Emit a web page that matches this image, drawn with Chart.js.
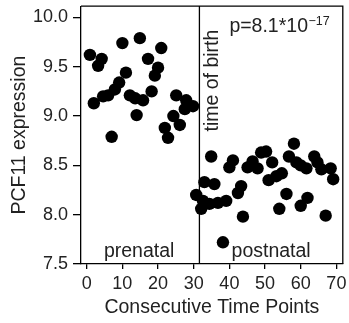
<!DOCTYPE html>
<html><head><meta charset="utf-8">
<script src="https://cdn.jsdelivr.net/npm/chart.js@4"></script>
<style>html,body{margin:0;padding:0;background:#fff;}#wrap{width:349px;height:323px;}</style>
</head><body><div id="wrap"><canvas id="c" width="349" height="323"></canvas></div>
<script>
// ---- data ----
const prenatalX = [0.9, 2.0, 3.2, 4.2, 4.6, 6.0, 7.0, 7.9, 9.1, 10.0, 11.0, 12.1, 13.6, 14.0, 14.9, 15.8, 17.2, 18.2, 19.1, 20.0, 20.9, 21.9, 22.8, 24.3, 25.1, 26.1, 27.5, 27.9, 29.8];
const prenatalY = [9.62, 9.13, 9.51, 9.58, 9.20, 9.21, 8.79, 9.27, 9.34, 9.74, 9.44, 9.21, 9.18, 9.01, 9.79, 9.16, 9.58, 9.25, 9.41, 9.49, 9.69, 8.88, 8.78, 9.00, 9.21, 8.91, 9.07, 9.16, 9.10];
const postnatalX = [30.7, 32.1, 32.6, 33.0, 34.4, 34.9, 35.8, 36.8, 38.2, 39.1, 40.0, 41.0, 42.4, 43.3, 43.8, 45.1, 46.5, 47.9, 48.9, 51.0, 50.3, 52.0, 53.2, 54.7, 54.0, 56.0, 56.7, 58.1, 58.8, 60.0, 60.0, 61.6, 61.9, 63.8, 64.7, 65.8, 67.0, 68.4, 69.1];
const postnatalY = [8.20, 8.06, 8.14, 8.33, 8.11, 8.59, 8.31, 8.12, 7.72, 8.14, 8.48, 8.55, 8.22, 8.29, 7.98, 8.48, 8.54, 8.47, 8.63, 8.35, 8.64, 8.53, 8.39, 8.42, 8.06, 8.21, 8.59, 8.72, 8.53, 8.50, 8.09, 8.47, 8.17, 8.59, 8.53, 8.46, 7.99, 8.47, 8.36];
const birthTime = 31.6;
const xTicks = [0, 10, 20, 30, 40, 50, 60, 70];
const yTicks = [7.5, 8.0, 8.5, 9.0, 9.5, 10.0];
const xTitle = 'Consecutive Time Points';
const yTitle = 'PCF11 expression';
const pMain = 'p=8.1*10';
const pExp = '\u221217';
const birthLabel = 'time of birth';
const prenatalLabel = 'prenatal';
const postnatalLabel = 'postnatal';

// ---- chart ----
const FONT = '"Liberation Sans", Arial, Helvetica, sans-serif';
const INK = '#222';
Chart.defaults.font.family = FONT;
Chart.defaults.color = INK;

const toPts = (xs, ys) => xs.map((x, i) => ({x: x, y: ys[i]}));

const annot = {
  id: 'annot',
  beforeDatasetsDraw(chart) {
    const {ctx, chartArea: a, scales: {x, y}} = chart;
    const bx = x.getPixelForValue(birthTime);
    ctx.save();
    ctx.strokeStyle = '#000';
    ctx.lineWidth = 1.3;
    ctx.beginPath();
    ctx.moveTo(bx, a.top); ctx.lineTo(bx, a.bottom);
    ctx.moveTo(a.left, a.top); ctx.lineTo(a.right, a.top); ctx.lineTo(a.right, a.bottom);
    ctx.stroke();
    ctx.restore();
  },
  afterDraw(chart) {
    const {ctx, scales: {x, y}} = chart;
    ctx.save();
    ctx.fillStyle = INK;
    ctx.font = '19.5px ' + FONT;
    ctx.textAlign = 'center';
    ctx.textBaseline = 'alphabetic';
    ctx.fillText(prenatalLabel, x.getPixelForValue(14.7), y.getPixelForValue(7.575));
    ctx.fillText(postnatalLabel, x.getPixelForValue(51.7), y.getPixelForValue(7.575));
    // rotated birth label
    ctx.save();
    ctx.translate(x.getPixelForValue(35.2), y.getPixelForValue(9.36));
    ctx.rotate(-Math.PI / 2);
    ctx.textBaseline = 'middle';
    ctx.fillText(birthLabel, 0, 0);
    ctx.restore();
    // p-value
    ctx.textAlign = 'left';
    const px = x.getPixelForValue(40.0);
    const py = y.getPixelForValue(9.852);
    ctx.fillText(pMain, px, py);
    const w = ctx.measureText(pMain).width;
    ctx.font = '12.5px ' + FONT;
    ctx.fillText(pExp, px + w + 0.5, py - 7);
    ctx.restore();
  }
};

new Chart(document.getElementById('c'), {
  type: 'scatter',
  data: {
    datasets: [
      {label: 'prenatal', data: toPts(prenatalX, prenatalY), backgroundColor: '#000', borderWidth: 0, pointRadius: 6.2},
      {label: 'postnatal', data: toPts(postnatalX, postnatalY), backgroundColor: '#000', borderWidth: 0, pointRadius: 6.2}
    ]
  },
  options: {
    responsive: false,
    animation: false,
    devicePixelRatio: 1,
    layout: {padding: {top: 6, right: 4, left: 0, bottom: 0}},
    plugins: {legend: {display: false}, tooltip: {enabled: false}},
    scales: {
      x: {
        type: 'linear', min: -1.6, max: 71.8,
        afterBuildTicks: s => { s.ticks = xTicks.map(v => ({value: v})); },
        afterFit: s => { s.height = 59; s.paddingLeft = 0; s.paddingRight = 0; },
        ticks: {font: {size: 18}, color: INK, padding: 4, autoSkip: false, maxRotation: 0, callback: v => String(v)},
        grid: {drawOnChartArea: false, drawTicks: true, tickLength: 5, color: '#000', lineWidth: 1.3},
        border: {display: true, color: '#000', width: 1.3},
        title: {display: true, text: xTitle, color: INK, font: {size: 19.5}, padding: {top: 0, bottom: 4}}
      },
      y: {
        type: 'linear', min: 7.5, max: 10.114,
        afterBuildTicks: s => { s.ticks = yTicks.map(v => ({value: v})); },
        afterFit: s => { s.width = 81; s.paddingTop = 0; s.paddingBottom = 0; },
        ticks: {font: {size: 18}, color: INK, padding: 5, autoSkip: false, callback: v => Number(v).toFixed(1)},
        grid: {drawOnChartArea: false, drawTicks: true, tickLength: 8, color: '#000', lineWidth: 1.3},
        border: {display: true, color: '#000', width: 1.3},
        title: {display: true, text: yTitle, color: INK, font: {size: 19.5}, padding: {top: 8, bottom: 0}}
      }
    }
  },
  plugins: [annot]
});
</script>
</body></html>
